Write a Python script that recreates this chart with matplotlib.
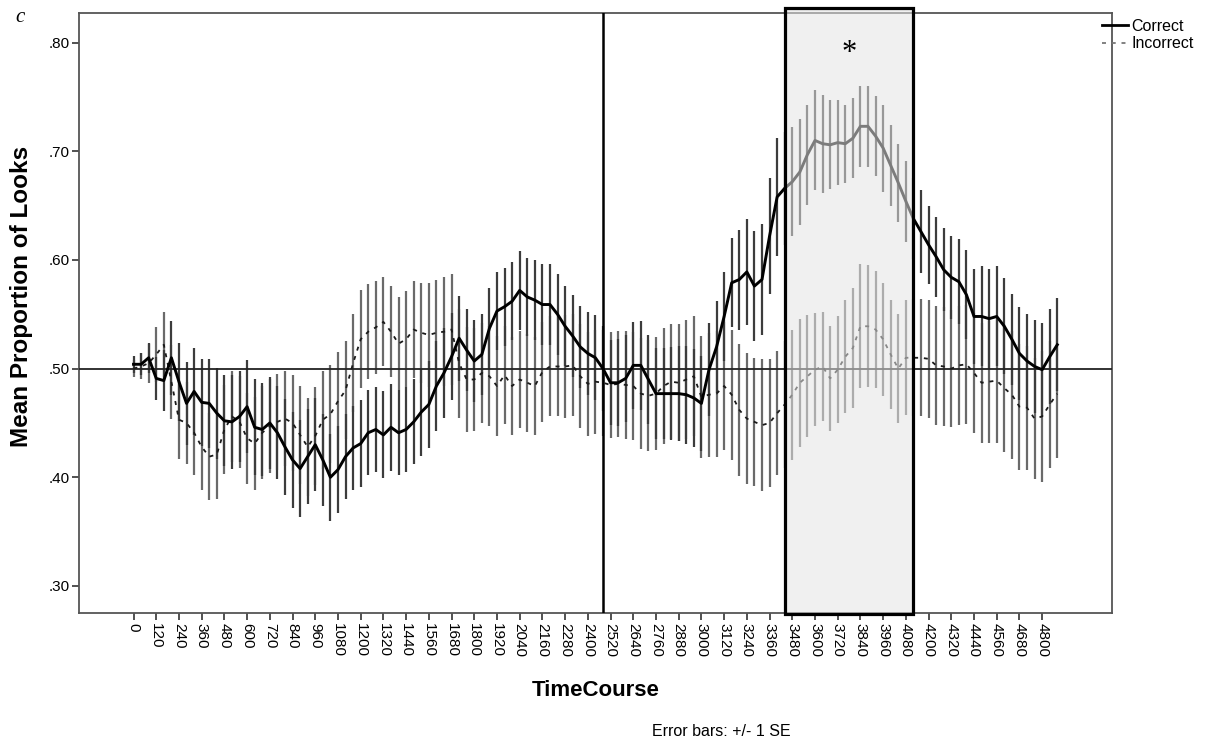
import matplotlib
matplotlib.use("Agg")
import matplotlib.pyplot as plt
from matplotlib.patches import Rectangle
from matplotlib.lines import Line2D
import numpy as np

# ---------------- data ----------------
time_ms = list(range(0, 4881, 40))  # 123 time bins

correct = [0.504, 0.504, 0.510, 0.491, 0.489, 0.510, 0.488, 0.468, 0.479, 0.469,
           0.468, 0.459, 0.452, 0.451, 0.456, 0.465, 0.446, 0.444, 0.450, 0.441,
           0.428, 0.416, 0.408, 0.419, 0.430, 0.416, 0.400, 0.407, 0.419, 0.427,
           0.431, 0.441, 0.444, 0.439, 0.446, 0.441, 0.444, 0.451, 0.460, 0.467,
           0.484, 0.496, 0.511, 0.528, 0.517, 0.507, 0.513, 0.537, 0.553, 0.557,
           0.562, 0.572, 0.566, 0.563, 0.559, 0.559, 0.550, 0.539, 0.530, 0.520,
           0.514, 0.510, 0.500, 0.487, 0.487, 0.491, 0.503, 0.503, 0.490, 0.477,
           0.477, 0.477, 0.477, 0.476, 0.473, 0.468, 0.499, 0.520, 0.548, 0.579,
           0.582, 0.589, 0.576, 0.582, 0.622, 0.658, 0.666, 0.672, 0.681, 0.697,
           0.710, 0.707, 0.706, 0.708, 0.707, 0.712, 0.723, 0.723, 0.714, 0.703,
           0.687, 0.671, 0.654, 0.638, 0.626, 0.614, 0.603, 0.591, 0.584, 0.580,
           0.568, 0.548, 0.548, 0.546, 0.548, 0.539, 0.527, 0.514, 0.507, 0.502,
           0.499, 0.511, 0.522]

correct_se = [0.008, 0.010, 0.014, 0.020, 0.028, 0.034, 0.036, 0.038, 0.040, 0.040,
              0.041, 0.042, 0.042, 0.043, 0.042, 0.043, 0.044, 0.043, 0.042, 0.043,
              0.044, 0.044, 0.045, 0.044, 0.043, 0.042, 0.040, 0.040, 0.039, 0.039,
              0.040, 0.039, 0.039, 0.040, 0.040, 0.039, 0.039, 0.039, 0.040, 0.040,
              0.041, 0.041, 0.040, 0.039, 0.038, 0.038, 0.037, 0.037, 0.036, 0.036,
              0.036, 0.036, 0.036, 0.037, 0.037, 0.037, 0.037, 0.037, 0.038, 0.038,
              0.038, 0.039, 0.039, 0.039, 0.040, 0.040, 0.040, 0.041, 0.041, 0.042,
              0.042, 0.043, 0.044, 0.045, 0.045, 0.044, 0.043, 0.042, 0.041, 0.041,
              0.046, 0.049, 0.051, 0.051, 0.053, 0.054, 0.052, 0.050, 0.049, 0.046,
              0.046, 0.045, 0.041, 0.039, 0.036, 0.037, 0.037, 0.037, 0.037, 0.040,
              0.037, 0.036, 0.037, 0.037, 0.038, 0.036, 0.037, 0.038, 0.038, 0.039,
              0.041, 0.044, 0.046, 0.046, 0.046, 0.044, 0.042, 0.043, 0.043, 0.043,
              0.043, 0.044, 0.043]

incorrect = [0.500, 0.502, 0.505, 0.513, 0.522, 0.488, 0.453, 0.450, 0.441, 0.428,
             0.419, 0.421, 0.444, 0.456, 0.451, 0.436, 0.431, 0.441, 0.447, 0.451,
             0.454, 0.450, 0.439, 0.428, 0.438, 0.453, 0.458, 0.470, 0.480, 0.505,
             0.527, 0.534, 0.538, 0.543, 0.534, 0.523, 0.527, 0.536, 0.533, 0.531,
             0.533, 0.534, 0.536, 0.505, 0.490, 0.490, 0.496, 0.493, 0.484, 0.494,
             0.484, 0.490, 0.487, 0.484, 0.497, 0.502, 0.502, 0.502, 0.503, 0.493,
             0.486, 0.488, 0.487, 0.485, 0.486, 0.485, 0.484, 0.477, 0.475, 0.477,
             0.484, 0.488, 0.487, 0.490, 0.493, 0.474, 0.476, 0.477, 0.484, 0.476,
             0.462, 0.454, 0.451, 0.448, 0.450, 0.459, 0.467, 0.476, 0.487, 0.493,
             0.499, 0.502, 0.491, 0.499, 0.511, 0.519, 0.539, 0.539, 0.536, 0.527,
             0.513, 0.500, 0.510, 0.510, 0.510, 0.509, 0.503, 0.502, 0.500, 0.503,
             0.504, 0.496, 0.487, 0.488, 0.489, 0.482, 0.476, 0.465, 0.464, 0.454,
             0.456, 0.467, 0.477]

incorrect_se = [0.008, 0.012, 0.018, 0.025, 0.030, 0.034, 0.036, 0.038, 0.039, 0.040,
                0.040, 0.041, 0.041, 0.042, 0.042, 0.042, 0.043, 0.043, 0.043, 0.044,
                0.044, 0.044, 0.045, 0.045, 0.045, 0.045, 0.045, 0.045, 0.045, 0.045,
                0.045, 0.044, 0.043, 0.041, 0.042, 0.043, 0.044, 0.045, 0.046, 0.048,
                0.049, 0.050, 0.051, 0.050, 0.048, 0.047, 0.046, 0.046, 0.046, 0.045,
                0.045, 0.045, 0.045, 0.045, 0.046, 0.046, 0.046, 0.047, 0.047, 0.048,
                0.048, 0.048, 0.049, 0.049, 0.049, 0.050, 0.050, 0.051, 0.051, 0.052,
                0.053, 0.053, 0.054, 0.055, 0.055, 0.056, 0.057, 0.058, 0.059, 0.060,
                0.061, 0.060, 0.059, 0.061, 0.059, 0.057, 0.058, 0.060, 0.059, 0.056,
                0.052, 0.050, 0.048, 0.049, 0.052, 0.055, 0.057, 0.056, 0.054, 0.052,
                0.050, 0.050, 0.053, 0.054, 0.054, 0.054, 0.055, 0.055, 0.054, 0.055,
                0.055, 0.055, 0.055, 0.056, 0.057, 0.059, 0.059, 0.058, 0.057, 0.056,
                0.060, 0.058, 0.059]

tick_values = list(range(0, 4801, 120))
y_ticks = [0.30, 0.40, 0.50, 0.60, 0.70, 0.80]
y_tick_labels = [".30", ".40", ".50", ".60", ".70", ".80"]
onset_ms = 2480
window_ms = (3440, 4120)
series_labels = ["Correct", "Incorrect"]

# ---------------- figure ----------------
plt.rcParams['font.family'] = ['Liberation Sans', 'DejaVu Sans']
W, H = 1211, 741
fig = plt.figure(figsize=(W / 100, H / 100), dpi=100)
ax = fig.add_axes([79 / W, 1 - 613 / H, (1112 - 79) / W, (613 - 13) / H])

x = np.array(time_ms)

# error bars
ax.errorbar(x, incorrect, yerr=incorrect_se, fmt='none', ecolor='#6a6a6a',
            elinewidth=1.6, capsize=0, zorder=2)
ax.errorbar(x, correct, yerr=correct_se, fmt='none', ecolor='#3c3c3c',
            elinewidth=1.6, capsize=0, zorder=2)

# reference lines
ax.axhline(0.50, color='#222222', lw=1.3, zorder=3)
ax.axvline(onset_ms, color='black', lw=1.8, zorder=3)

# means
l_inc, = ax.plot(x, incorrect, color='#1a1a1a', lw=1.3, zorder=4)
l_inc.set_dashes((2.2, 3.2))
l_cor, = ax.plot(x, correct, color='black', lw=2.1, zorder=5)

# critical window (semi-transparent overlay + thick border)
ax.add_patch(Rectangle((window_ms[0], 0.2745), window_ms[1] - window_ms[0], 0.832 - 0.2745,
                       facecolor='#e4e4e4', edgecolor='none', alpha=0.55,
                       zorder=6, clip_on=False))
ax.add_patch(Rectangle((window_ms[0], 0.2745), window_ms[1] - window_ms[0], 0.832 - 0.2745,
                       facecolor='none', edgecolor='black', lw=2.3,
                       zorder=7, clip_on=False))
ax.text((window_ms[0] + window_ms[1]) / 2, 0.783, "*", ha='center', va='baseline',
        fontsize=22, family=['Liberation Serif', 'DejaVu Serif'], zorder=8)

# axes
ax.set_xlim(-288, 5169)
ax.set_ylim(0.2751, 0.8273)
ax.set_xticks(tick_values)
ax.set_xticklabels([str(t) for t in tick_values], rotation=-90, fontsize=11)
ax.set_yticks(y_ticks)
ax.set_yticklabels(y_tick_labels, fontsize=11)
ax.tick_params(axis='both', direction='out', length=5, width=1.2, color='#333333', pad=2)
for s in ax.spines.values():
    s.set_color('#555555')
    s.set_linewidth(1.3)

ax.set_ylabel("Mean Proportion of Looks", fontsize=17.5, fontweight='bold')
ax.yaxis.set_label_coords(-0.045, 0.5275)
ax.set_xlabel("TimeCourse", fontsize=16, fontweight='bold')
ax.xaxis.set_label_coords(0.5, -0.111)

# legend
handles = [Line2D([], [], color='black', lw=2.0),
           Line2D([], [], color='#777777', lw=1.3, dashes=(2.2, 3.2))]
fig.legend(handles, series_labels, loc='upper left',
           bbox_to_anchor=(1102 / W, 1 - 19 / H), frameon=False, fontsize=11.5,
           handlelength=1.6, handletextpad=0.25, labelspacing=0.15,
           borderaxespad=0, borderpad=0)

fig.text(15 / W, 1 - 18 / H, "c", fontsize=15, style='italic',
         family=['Liberation Serif', 'DejaVu Serif'], ha='left', va='center')
fig.text(721 / W, 1 - 731 / H, "Error bars: +/- 1 SE", fontsize=11.5,
         ha='center', va='center')

fig.savefig("out.png", dpi=100)
